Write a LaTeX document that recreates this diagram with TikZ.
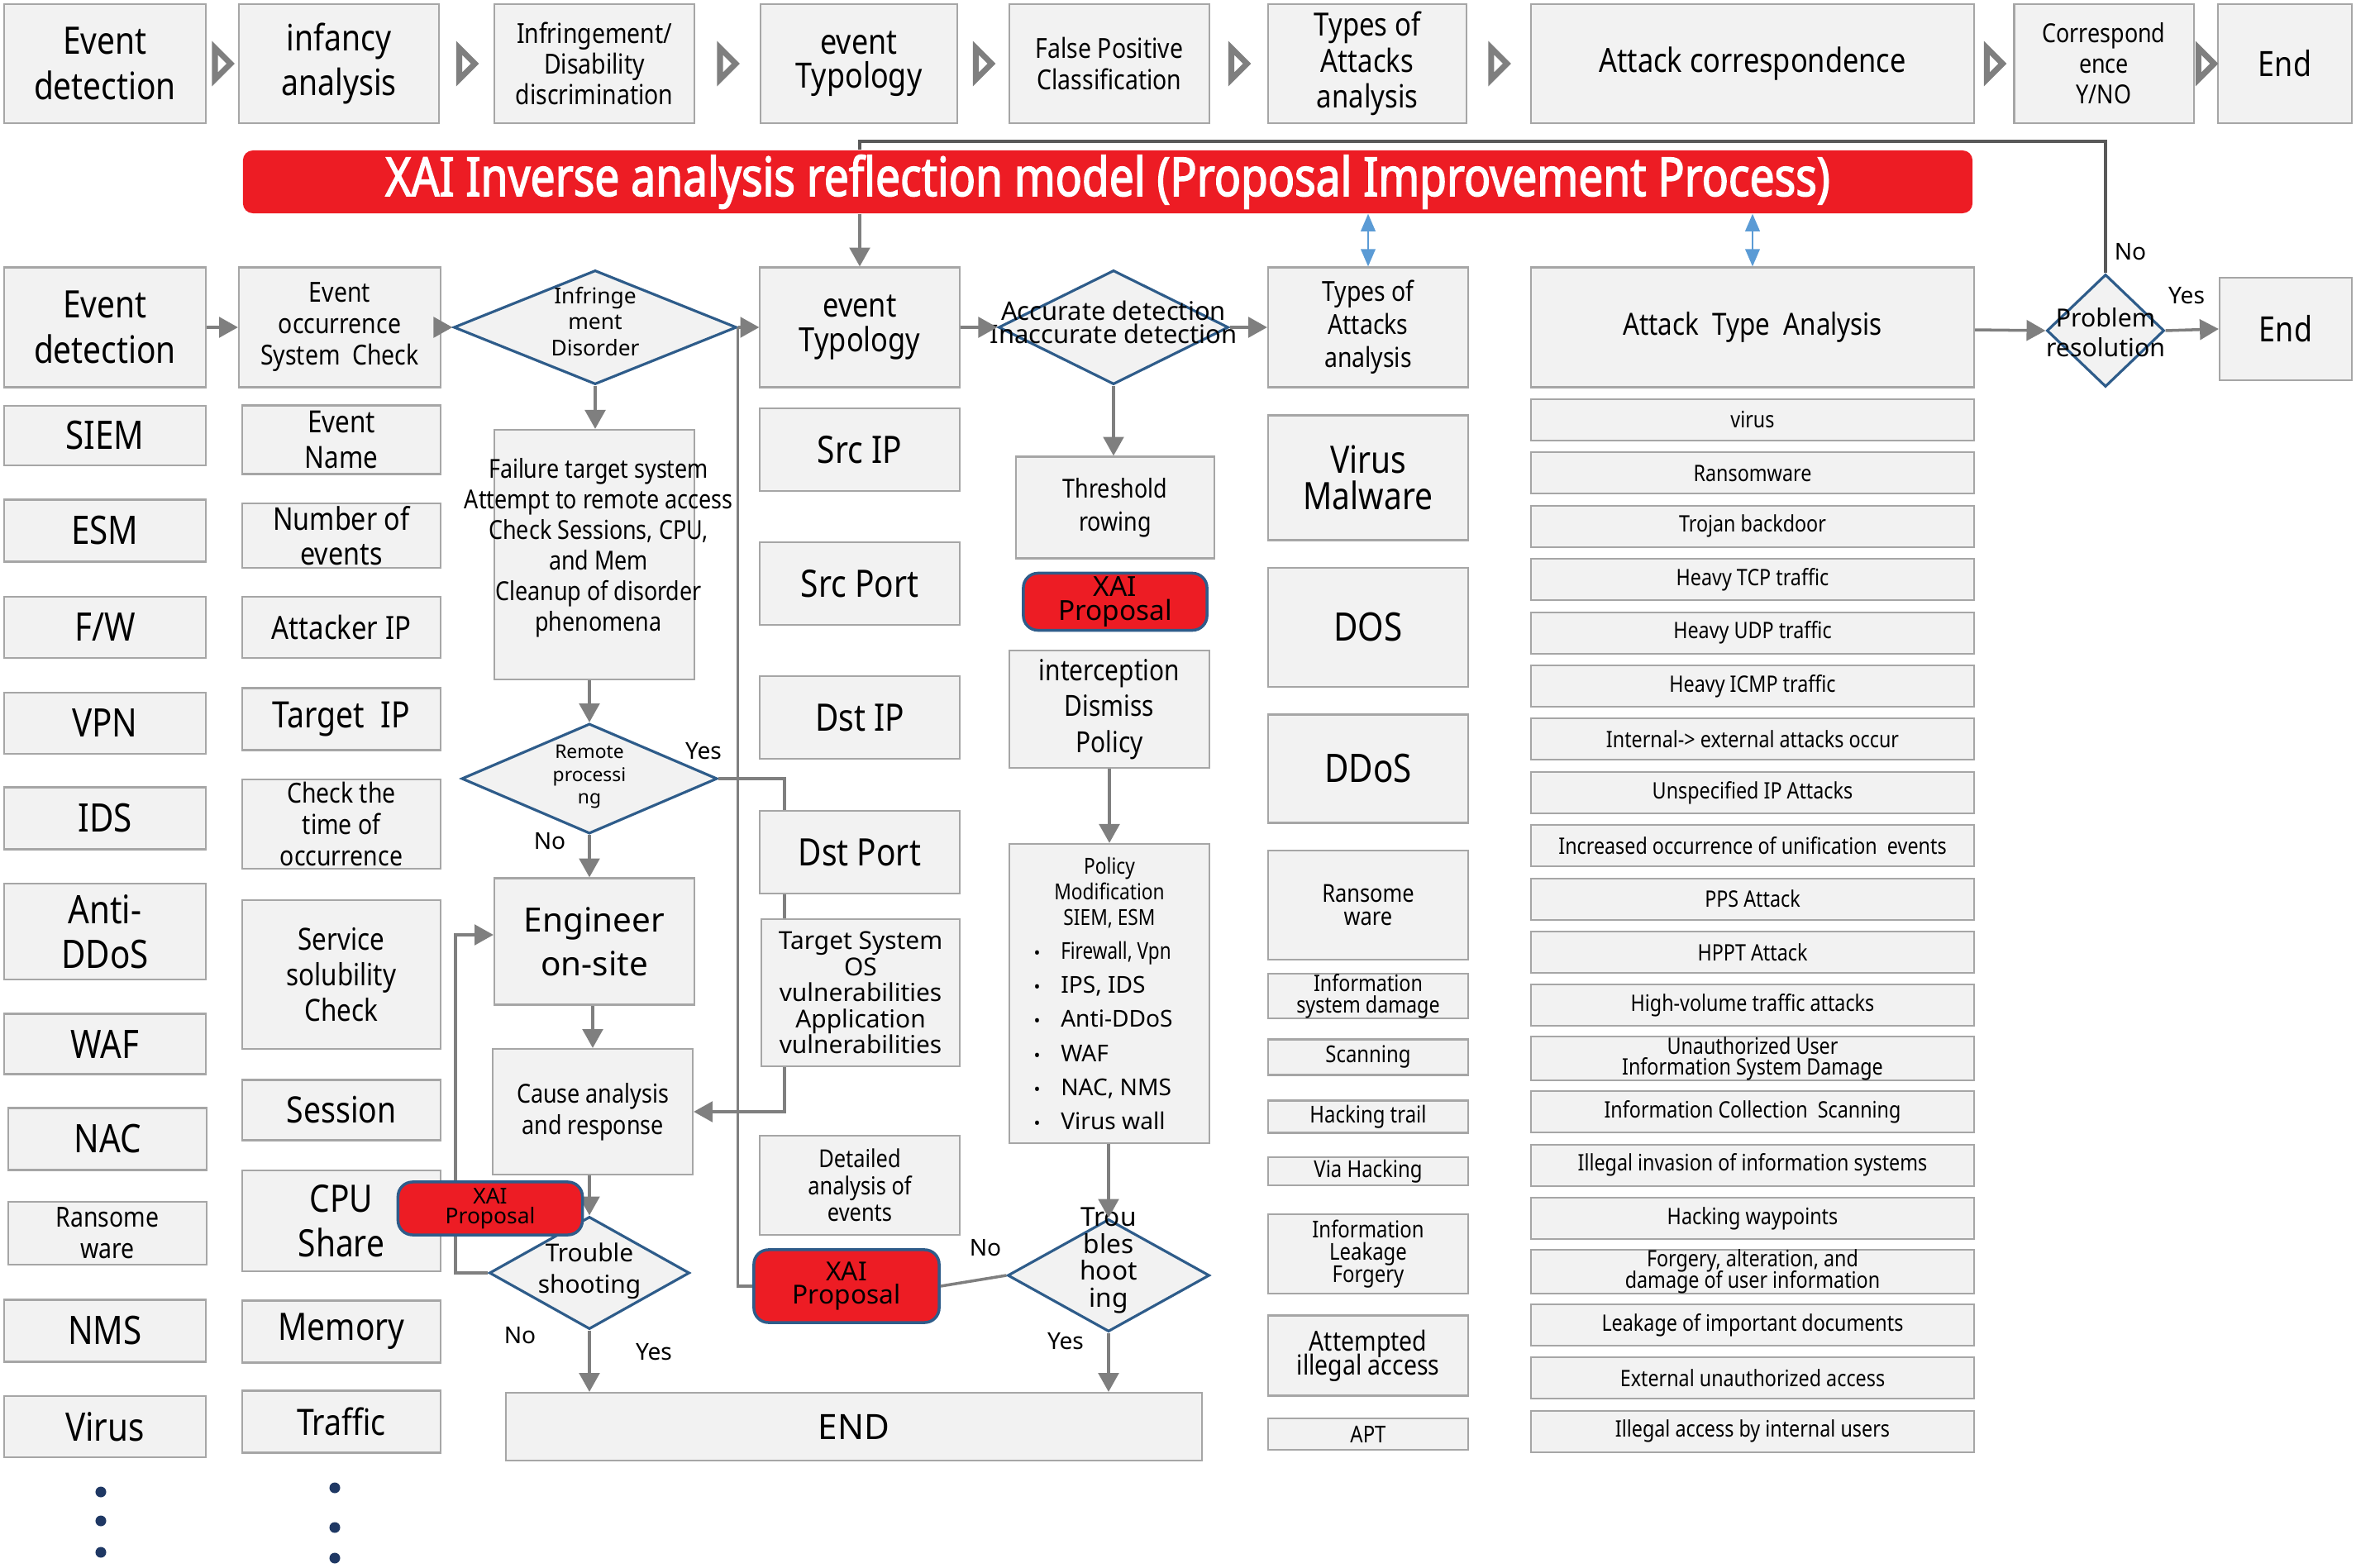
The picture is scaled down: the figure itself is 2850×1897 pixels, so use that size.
\documentclass[tikz,border=0pt]{standalone}
\usepackage{fontspec}
\setmainfont{Noto Sans}[FakeStretch=0.85]
\newfontfamily\wf{Noto Sans}
\newfontfamily\bnr{Noto Sans}[FakeStretch=0.82, FakeBold=2.2]
\usetikzlibrary{shapes.geometric, arrows.meta, calc}

\definecolor{boxfill}{HTML}{F2F2F2}
\definecolor{boxline}{HTML}{A6A6A6}
\definecolor{diablue}{HTML}{2E5C8A}
\definecolor{xaired}{HTML}{ED1C24}
\definecolor{arrgray}{HTML}{7F7F7F}
\definecolor{fbgray}{HTML}{595959}
\definecolor{lightblue}{HTML}{5B9BD5}
\definecolor{dotnavy}{HTML}{1F3864}
\newcommand{\fsz}[2]{\fontsize{#1}{#2}\selectfont\lineskiplimit=-20pt\relax}

\begin{document}
\begin{tikzpicture}[x=0.01cm, y=-0.01cm,
    box/.style={draw=boxline, fill=boxfill, line width=0.6pt, inner sep=0pt, align=center},
    dia/.style={diamond, draw=diablue, fill=boxfill, line width=0.9pt, inner sep=0pt},
    xai/.style={draw=diablue, fill=xaired, line width=1pt, rounded corners=5pt, inner sep=0pt, align=center, font=\wf},
    txt/.style={inner sep=0pt, align=center},
    chev/.style={draw=arrgray, line width=2pt, fill=white},
    arr/.style={draw=arrgray, line width=1pt, -{Triangle[width=7pt,length=6.5pt]}},
    ln/.style={draw=arrgray, line width=1pt},
    fbk/.style={draw=fbgray, line width=0.9pt},
    blu/.style={draw=lightblue, line width=0.6pt, {Triangle[width=5pt,length=6pt]}-{Triangle[width=5pt,length=6pt]}},
    yn/.style={inner sep=0pt, font=\wf\fsz{8}{9}}]
  \useasboundingbox (0,0) rectangle (2850,1897);

  % process row
  \node[box, minimum width=2.44cm, minimum height=1.44cm, font=\fsz{13}{15.5}] (t1) at (127,77) {Event\\detection};
  \node[box, minimum width=2.42cm, minimum height=1.44cm, font=\fsz{12.5}{15.5}] (t2) at (410,77) {infancy\\analysis};
  \node[box, minimum width=2.42cm, minimum height=1.44cm, font=\fsz{9.5}{10.5}] (t3) at (719,77) {Infringement/\\Disability\\discrimination};
  \node[box, minimum width=2.38cm, minimum height=1.44cm, font=\fsz{12}{11.5}] (t4) at (1039,77) {event\\Typology};
  \node[box, minimum width=2.42cm, minimum height=1.44cm, font=\fsz{9.5}{11}] (t5) at (1342,77) {False Positive\\Classification};
  \node[box, minimum width=2.40cm, minimum height=1.44cm, font=\fsz{11}{12.3}] (t6) at (1654,77) {Types of\\Attacks\\analysis};
  \node[box, minimum width=5.36cm, minimum height=1.44cm, font=\fsz{11.5}{14}] (t7) at (2120,77) {Attack correspondence};
  \node[box, minimum width=2.17cm, minimum height=1.44cm, font=\fsz{9}{10.5}] (t8) at (2545,77) {Correspond\\ence\\Y/NO};
  \node[box, minimum width=1.62cm, minimum height=1.44cm, font=\fsz{12}{14}] (t9) at (2764,77) {End};

  \foreach \a/\b in {t1/t2, t2/t3, t3/t4, t4/t5, t5/t6, t6/t7, t7/t8, t8/t9} {
    \coordinate (c\a) at ($(\a.east)!.5!(\b.west)$);
    \draw[chev] ($(c\a)+(-9,-19)$) -- ($(c\a)+(10,0)$) -- ($(c\a)+(-9,19)$) -- cycle;
  }

  % banner
  \node[fill=xaired, rounded corners=0.12cm, minimum width=20.91cm, minimum height=0.76cm, inner sep=0pt,
        text=white, font=\bnr\fsz{18.5}{20}] (xai) at (1340,220)
        {XAI Inverse analysis reflection model (Proposal Improvement Process)};

  % analysis row
  \node[box, minimum width=2.44cm, minimum height=1.45cm, font=\fsz{13}{15.5}] (m1) at (127,396) {Event\\detection};
  \node[box, minimum width=2.44cm, minimum height=1.45cm, font=\fsz{9.5}{10.8}] (m2) at (411,396) {Event\\occurrence\\System\ \ Check};
  \node[dia, minimum width=3.42cm, minimum height=1.38cm] (d1) at (720,396) {};
  \node[txt, font=\wf\fsz{7.5}{8.9}] (d1t) at (720,389) {Infringe\\ment\\Disorder};
  \node[box, minimum width=2.41cm, minimum height=1.45cm, font=\fsz{11.5}{12}] (m3) at (1040,396) {event\\Typology};
  \node[dia, minimum width=2.78cm, minimum height=1.38cm] (d2) at (1347,396) {};
  \node[txt, font=\wf\fsz{8.8}{7.8}] (d2t) at (1347,390) {Accurate detection\\Inaccurate detection};
  \node[box, minimum width=2.42cm, minimum height=1.45cm, font=\fsz{9.5}{11.4}] (m4) at (1655,396) {Types of\\Attacks\\analysis};
  \node[box, minimum width=5.36cm, minimum height=1.45cm, font=\fsz{10.5}{12}] (m5) at (2120,396) {Attack\ \ Type\ \ Analysis};
  \node[dia, minimum width=1.42cm, minimum height=1.36cm] (d3) at (2547,400) {};
  \node[txt, font=\wf\fsz{8.6}{10.4}] (d3t) at (2547,402) {Problem\\resolution};
  \node[box, minimum width=1.60cm, minimum height=1.24cm, font=\fsz{12}{14}] (m6) at (2765,398) {End};

  \draw[arr] (m1) -- (m2);
  \draw[arr] (m2) -- (d1.west);
  \draw[arr] (d1.east) -- (m3.west);
  \draw[arr] (m3) -- (d2.west);
  \draw[arr] (d2.east) -- (m4.west);
  \draw[arr] (m5) -- (d3.west);
  \draw[arr] (d3.east) -- (m6.west);

  % feedback to the banner
  \coordinate (fbl) at (1040,171);
  \draw[fbk] (d3.north) |- (fbl) -- (fbl |- xai.north);
  \draw[arr] (fbl |- xai.south) -- (m3.north);
  \draw[blu] (xai.south -| m4.north) -- (m4.north);
  \draw[blu] (xai.south -| m5.north) -- (m5.north);
  \node[yn] (pno) at (2577,305) {No};
  \node[yn] (pyes) at (2645,358) {Yes};

  % sources
  \node[box, minimum width=2.44cm, minimum height=0.72cm, font=\fsz{13.5}{15}] (s1) at (127,527) {SIEM};
  \node[box, minimum width=2.44cm, minimum height=0.75cm, font=\fsz{13.5}{15}] (s2) at (127,642) {ESM};
  \node[box, minimum width=2.44cm, minimum height=0.74cm, font=\fsz{13.5}{15}] (s3) at (127,759) {F/W};
  \node[box, minimum width=2.44cm, minimum height=0.74cm, font=\fsz{13.5}{15}] (s4) at (127,875) {VPN};
  \node[box, minimum width=2.44cm, minimum height=0.75cm, font=\fsz{13.5}{15}] (s5) at (127,990) {IDS};
  \node[box, minimum width=2.44cm, minimum height=1.16cm, font=\fsz{13.5}{15.5}] (s6) at (127,1127) {Anti-\\DDoS};
  \node[box, minimum width=2.44cm, minimum height=0.73cm, font=\fsz{13.5}{15}] (s7) at (127,1263) {WAF};
  \node[box, minimum width=2.40cm, minimum height=0.75cm, font=\fsz{13.5}{15}] (s8) at (130,1378) {NAC};
  \node[box, minimum width=2.40cm, minimum height=0.76cm, font=\fsz{9.5}{10.8}] (s9) at (130,1492) {Ransome\\ware};
  \node[box, minimum width=2.44cm, minimum height=0.75cm, font=\fsz{13.5}{15}] (s10) at (127,1610) {NMS};
  \node[box, minimum width=2.44cm, minimum height=0.74cm, font=\fsz{13.5}{15}] (s11) at (127,1726) {Virus};
  \foreach \y in {1805, 1840, 1878}
    \fill[dotnavy] (122,\y) circle[radius=0.065cm];

  % event fields
  \node[box, minimum width=2.40cm, minimum height=0.83cm, font=\fsz{10.5}{12}] (f1) at (413,532) {Event\\Name};
  \node[box, minimum width=2.40cm, minimum height=0.78cm, font=\fsz{10.8}{12}] (f2) at (413,648) {Number of\\events};
  \node[box, minimum width=2.40cm, minimum height=0.74cm, font=\fsz{11}{13}] (f3) at (413,759) {Attacker IP};
  \node[box, minimum width=2.40cm, minimum height=0.75cm, font=\fsz{12.5}{14}] (f4) at (413,870) {Target\ \ IP};
  \node[box, minimum width=2.40cm, minimum height=1.08cm, font=\fsz{9.5}{10.8}] (f5) at (413,997) {Check the\\time of\\occurrence};
  \node[box, minimum width=2.40cm, minimum height=1.80cm, font=\fsz{10.5}{12.2}] (f6) at (413,1179) {Service\\solubility\\Check};
  \node[box, minimum width=2.40cm, minimum height=0.73cm, font=\fsz{12.5}{14}] (f7) at (413,1343) {Session};
  \node[box, minimum width=2.40cm, minimum height=1.22cm, font=\fsz{13}{15.5}] (f8) at (413,1477) {CPU\\Share};
  \node[box, minimum width=2.40cm, minimum height=0.75cm, font=\fsz{13}{15}] (f9) at (413,1611) {Memory};
  \node[box, minimum width=2.40cm, minimum height=0.75cm, font=\fsz{12.5}{15}] (f10) at (413,1720) {Traffic};
  \foreach \y in {1800, 1848, 1885}
    \fill[dotnavy] (405,\y) circle[radius=0.065cm];

  % infringement branch
  \node[box, minimum width=2.42cm, minimum height=3.02cm] (fl) at (719,671) {};
  \node[txt, font=\fsz{9}{10.5}] (flt) at (724,663) {Failure target system\\Attempt to remote access\\Check Sessions, CPU,\\and Mem\\Cleanup of disorder\\phenomena};
  \node[dia, minimum width=3.09cm, minimum height=1.33cm] (d4) at (713,942) {};
  \node[txt, font=\wf\fsz{6.5}{7.8}] (d4t) at (713,940) {Remote\\processi\\ng};
  \node[box, minimum width=2.42cm, minimum height=1.53cm, font=\wf\fsz{11.5}{15}] (e1) at (719,1139) {Engineer\\on-site};
  \node[box, minimum width=2.42cm, minimum height=1.52cm, font=\fsz{9}{10.8}] (e2) at (717,1345) {Cause analysis\\and response};
  \node[dia, minimum width=2.42cm, minimum height=1.36cm] (d5) at (713,1540) {};
  \node[txt, font=\wf\fsz{8.5}{10.8}] (d5t) at (713,1538) {Trouble\\shooting};
  \node[box, minimum width=8.41cm, minimum height=0.82cm, font=\wf\fsz{12}{14}] (fin) at (1033,1726) {END};

  \draw[arr] (d1.south) -- (d1.south |- fl.north);
  \draw[arr] (fl.south -| d4.north) -- (d4.north);
  \draw[arr] (d4.south) -- (d4.south |- e1.north);
  \draw[arr] (e1.south -| e2.north) -- (e2.north);
  \draw[arr] (e2.south -| d5.north) -- (d5.north);
  \draw[arr] (d5.south) -- (d5.south |- fin.north);
  \coordinate (lp) at (551,1131);
  \draw[arr] (d5.west) -| (lp) -- (lp -| e1.west);
  \node[xai, minimum width=2.23cm, minimum height=0.64cm, font=\wf\fsz{7.5}{6.8}] (x1) at (593,1462) {XAI\\Proposal};
  \node[yn] (ryes) at (851,909) {Yes};
  \node[yn] (rno) at (665,1018) {No};
  \node[yn] (tno) at (629,1616) {No};
  \node[yn] (tyes) at (791,1636) {Yes};

  % packet fields
  \node[box, minimum width=2.41cm, minimum height=1.00cm, font=\fsz{13}{15}] (p1) at (1040,544) {Src\ IP};
  \node[box, minimum width=2.41cm, minimum height=1.00cm, font=\fsz{13}{15}] (p2) at (1040,706) {Src\ Port};
  \node[box, minimum width=2.41cm, minimum height=1.00cm, font=\fsz{13}{15}] (p3) at (1040,868) {Dst\ IP};
  \node[box, minimum width=2.41cm, minimum height=1.00cm, font=\fsz{13}{15}] (dp) at (1040,1031) {Dst\ Port};
  \node[box, minimum width=2.39cm, minimum height=1.78cm, font=\wf\fsz{8.5}{9}] (ts) at (1041,1201) {Target System\\OS\\vulnerabilities\\Application\\vulnerabilities};
  \node[box, minimum width=2.41cm, minimum height=1.20cm, font=\fsz{8.5}{9.3}] (da) at (1040,1434) {Detailed\\analysis of\\events};
  \node[xai, minimum width=2.24cm, minimum height=0.88cm, font=\wf\fsz{9}{8}] (x2) at (1024,1556) {XAI\\Proposal};

  \coordinate (yx) at (949,942);
  \draw[ln] (d4.east) -- (yx) -- (yx |- dp.north);
  \draw[ln] (yx |- dp.south) -- (yx |- ts.north);
  \draw[arr] (yx |- ts.south) |- (e2.east);
  \draw[ln] (x2.west) -| (d1.east);

  % detection branch
  \node[box, minimum width=2.40cm, minimum height=1.23cm, font=\fsz{9}{11.4}] (th) at (1349,614) {Threshold\\rowing};
  \node[xai, minimum width=2.22cm, minimum height=0.69cm, font=\wf\fsz{9.5}{8}] (x3) at (1349,728) {XAI\\Proposal};
  \node[box, minimum width=2.42cm, minimum height=1.42cm, font=\fsz{10}{12.4}] (ip) at (1342,858) {interception\\Dismiss\\Policy};
  \node[box, minimum width=2.42cm, minimum height=3.62cm] (pm) at (1342,1202) {};
  \node[txt, font=\fsz{7.6}{8.8}] (pmh) at (1342,1080) {Policy\\Modification\\SIEM, ESM};
  \node[txt, anchor=west, align=left, font=\wf\fsz{8}{11.7}] (pml) at (1250,1253)
    {{\fsz{6}{6}\textbullet}\hspace{7pt}{\addfontfeature{FakeStretch=0.8}Firewall, Vpn}\\
     {\fsz{6}{6}\textbullet}\hspace{7pt}IPS, IDS\\
     {\fsz{6}{6}\textbullet}\hspace{7pt}Anti-DDoS\\
     {\fsz{6}{6}\textbullet}\hspace{7pt}WAF\\
     {\fsz{6}{6}\textbullet}\hspace{7pt}NAC, NMS\\
     {\fsz{6}{6}\textbullet}\hspace{7pt}Virus wall};
  \node[dia, minimum width=2.44cm, minimum height=1.36cm] (d6) at (1341,1543) {};
  \node[txt, font=\wf\fsz{9}{9.3}] (d6t) at (1341,1525) {Trou\\bles\\hoot\\ing};

  \draw[arr] (d2.south) -- (d2.south |- th.north);
  \draw[arr] (ip.south) -- (pm.north);
  \draw[arr] (pm.south -| d6.north) -- (d6.north);
  \draw[arr] (d6.south) -- (d6.south |- fin.north);
  \draw[ln] (x2.east) -- (d6.west);
  \node[yn] (dno) at (1192,1510) {No};
  \node[yn] (dyes) at (1289,1623) {Yes};

  % attack families
  \node[box, minimum width=2.42cm, minimum height=1.51cm, font=\fsz{13}{12.5}] (a1) at (1655,578) {Virus\\Malware};
  \node[box, minimum width=2.42cm, minimum height=1.44cm, font=\fsz{13.5}{15}] (a2) at (1655,759) {DOS};
  \node[box, minimum width=2.42cm, minimum height=1.31cm, font=\fsz{13.5}{15}] (a3) at (1655,930) {DDoS};
  \node[box, minimum width=2.42cm, minimum height=1.32cm, font=\fsz{8.5}{7.8}] (a4) at (1655,1095) {Ransome\\ware};
  \node[box, minimum width=2.42cm, minimum height=0.51cm, font=\fsz{7.8}{7.3}] (a5) at (1655,1205) {Information\\system damage};
  \node[box, minimum width=2.42cm, minimum height=0.43cm, font=\fsz{8}{9}] (a6) at (1655,1279) {Scanning};
  \node[box, minimum width=2.42cm, minimum height=0.39cm, font=\fsz{8}{9}] (a7) at (1655,1351) {Hacking trail};
  \node[box, minimum width=2.42cm, minimum height=0.34cm, font=\fsz{8}{9}] (a8) at (1655,1417) {Via Hacking};
  \node[box, minimum width=2.42cm, minimum height=0.96cm, font=\fsz{8}{7.6}] (a9) at (1655,1517) {Information\\Leakage\\Forgery};
  \node[box, minimum width=2.42cm, minimum height=0.97cm, font=\fsz{9.5}{8.3}] (a10) at (1655,1640) {Attempted\\illegal access};
  \node[box, minimum width=2.42cm, minimum height=0.38cm, font=\fsz{8}{9}] (a11) at (1655,1735) {APT};

  % attack types
  \foreach \t [count=\i from 0] in {virus, Ransomware, Trojan backdoor, Heavy TCP traffic, Heavy UDP traffic,
      Heavy ICMP traffic, Internal-> external attacks occur, Unspecified IP Attacks,
      Increased occurrence of unification\ \ events, PPS Attack, HPPT Attack, High-volume traffic attacks,
      {Unauthorized User\\Information System Damage}, Information Collection\ \ Scanning,
      Illegal invasion of information systems, Hacking waypoints,
      {Forgery, alteration, and\\damage of user information}, Leakage of important documents,
      External unauthorized access, Illegal access by internal users}
    \node[box, minimum width=5.36cm, minimum height=0.50cm, font=\fsz{7.8}{7.2}] (ty\i) at (2120,{508+64.4*\i}) {\t};
\end{tikzpicture}
\end{document}
